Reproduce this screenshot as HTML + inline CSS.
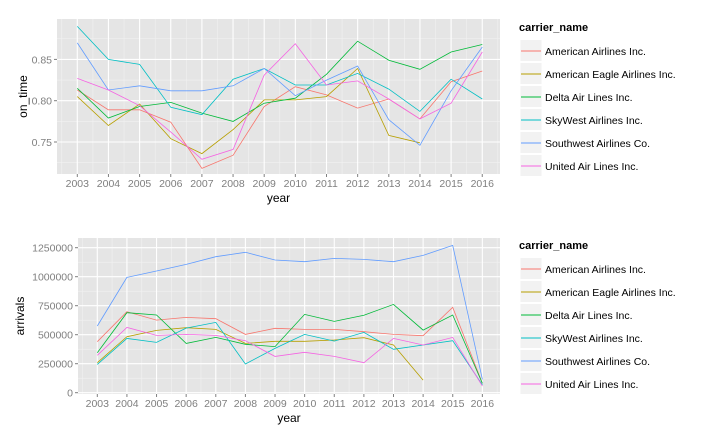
<!DOCTYPE html>
<html><head><meta charset="utf-8"><style>
body{margin:0;background:#fff;}
svg{display:block;font-family:"Liberation Sans",Arial,sans-serif;}
</style></head><body>
<svg id="chart" width="715" height="439" viewBox="0 0 715 439"></svg>
<script>
const years=[2003,2004,2005,2006,2007,2008,2009,2010,2011,2012,2013,2014,2015,2016];
const carriers=["American Airlines Inc.","American Eagle Airlines Inc.","Delta Air Lines Inc.","SkyWest Airlines Inc.","Southwest Airlines Co.","United Air Lines Inc."];
const colors=["#F8766D","#B79F00","#00BA38","#00BFC4","#619CFF","#F564E3"];
const onTimeAmerican=[0.813,0.789,0.789,0.774,0.718,0.734,0.793,0.817,0.807,0.791,0.802,0.778,0.823,0.836];
const onTimeEagle=[0.805,0.770,0.796,0.754,0.736,0.765,0.801,0.801,0.805,0.839,0.758,0.749];
const onTimeDelta=[0.815,0.779,0.793,0.798,0.785,0.775,0.797,0.803,0.832,0.872,0.849,0.838,0.859,0.868];
const onTimeSkyWest=[0.890,0.850,0.844,0.792,0.783,0.826,0.839,0.819,0.819,0.833,0.814,0.787,0.826,0.802];
const onTimeSouthwest=[0.870,0.813,0.818,0.812,0.812,0.818,0.839,0.806,0.825,0.842,0.777,0.746,0.812,0.865];
const onTimeUnited=[0.827,0.813,0.794,0.762,0.729,0.741,0.831,0.869,0.819,0.824,0.802,0.778,0.797,0.859];
const arrAmerican=[440000,698000,626000,649000,638000,503000,555000,546000,546000,526000,503000,491000,736000,80000];
const arrEagle=[259000,483000,537000,560000,546000,425000,443000,443000,454000,474000,411000,109000];
const arrDelta=[345000,690000,670000,425000,477000,417000,397000,675000,615000,667000,761000,540000,670000,80000];
const arrSkyWest=[244000,468000,434000,557000,606000,247000,382000,503000,445000,520000,374000,411000,448000,66000];
const arrSouthwest=[575000,994000,1049000,1106000,1172000,1210000,1144000,1129000,1158000,1149000,1129000,1184000,1270000,115000];
const arrUnited=[322000,563000,494000,503000,494000,448000,313000,348000,313000,259000,468000,411000,477000,57000];
const onTimeTicks=[0.75,0.80,0.85];
const arrTicks=[0,250000,500000,750000,1000000,1250000];

const NS="http://www.w3.org/2000/svg";
const svg=document.getElementById('chart');
function el(tag,attrs,parent,text){const e=document.createElementNS(NS,tag);for(const k in attrs)e.setAttribute(k,attrs[k]);if(text!==undefined)e.textContent=text;(parent||svg).appendChild(e);return e;}

function panel(cfg){
  const g=el('g',{});
  
  
  const {L,R,T,B}=cfg;
  const x=y=>cfg.x0+(y-years[0])*cfg.xs;
  const yv=v=>cfg.y0-(v-cfg.v0)*cfg.ys;
  const bg=el('rect',{x:L,y:T,width:R-L,height:B-T,fill:'#E5E5E5'},g);
  
  
  for(let i=-1;i<years.length;i++){const xx=x(years[0]+i+0.5);if(xx>L&&xx<R)el('line',{x1:xx,x2:xx,y1:T,y2:B,stroke:'#F2F2F2','stroke-width':0.6},g);}
  const step=cfg.ticks[1]-cfg.ticks[0];
  for(let v=cfg.ticks[0]-step*1.5;v<cfg.ticks[cfg.ticks.length-1]+step*2;v+=step){const yy=yv(v);if(yy>T&&yy<B)el('line',{x1:L,x2:R,y1:yy,y2:yy,stroke:'#F2F2F2','stroke-width':0.6},g);}
  years.forEach(yr=>{const xx=x(yr);el('line',{x1:xx,x2:xx,y1:T,y2:B,stroke:'#fff','stroke-width':1.1},g);
    el('line',{x1:xx,x2:xx,y1:B,y2:B+3,stroke:'#7F7F7F','stroke-width':1},g);
    const t=el('text',{x:xx,y:B+13,'text-anchor':'middle','font-size':'10.5',fill:'#7F7F7F'},g,yr);
    
    });
  cfg.ticks.forEach(v=>{const yy=yv(v);el('line',{x1:L,x2:R,y1:yy,y2:yy,stroke:'#fff','stroke-width':1.1},g);
    el('line',{x1:L-3,x2:L,y1:yy,y2:yy,stroke:'#7F7F7F','stroke-width':1},g);
    const t=el('text',{x:L-5,y:yy+4,'text-anchor':'end','font-size':'10.5',fill:'#7F7F7F'},g,cfg.fmt(v));
    
    });
  cfg.series.forEach((s,i)=>{const pts=s.map((v,j)=>x(years[j]).toFixed(1)+','+yv(v).toFixed(1)).join(' ');
    const p=el('polyline',{points:pts,fill:'none',stroke:colors[i],'stroke-width':0.8},g);
    
    });
  const xt=el('text',{x:(L+R)/2,y:B+28,'text-anchor':'middle','font-size':'12',fill:'#000'},g,'year');
  
  
  const ytx=cfg.ytX;const yc=(T+B)/2;
  const yt=el('text',{x:ytx,y:yc,'text-anchor':'middle','font-size':'12',fill:'#000',transform:`rotate(-90 ${ytx} ${yc})`},g,cfg.ytitle);
  
  
  const lg=el('g',{},g);
  
  
  const lt=el('text',{x:519,y:cfg.legY,'font-size':'11','font-weight':'bold',fill:'#000'},lg,'carrier_name');
  
  
  carriers.forEach((c,i)=>{const cy=cfg.legY+20+i*23;
    const e=el('g',{},lg);
    
    
    el('rect',{x:520,y:cy-11.5,width:22,height:22,fill:'#F2F2F2',stroke:'#fff','stroke-width':1},e);
    el('line',{x1:521,x2:541,y1:cy,y2:cy,stroke:colors[i],'stroke-width':1},e);
    el('text',{x:545,y:cy+4,'font-size':'10.5',fill:'#000'},e,c);});
}
panel({name:'on-time-panel',L:57,R:500,T:19,B:174,x0:77.3,xs:31.15,y0:100.7,v0:0.80,ys:41.3/0.05,ticks:onTimeTicks,fmt:v=>v.toFixed(2),
  series:[onTimeAmerican,onTimeEagle,onTimeDelta,onTimeSkyWest,onTimeSouthwest,onTimeUnited],ytitle:'on_time',ytX:27,legY:31});
panel({name:'arrivals-panel',L:78,R:500,T:238,B:394,x0:97.3,xs:29.62,y0:392.7,v0:0,ys:145/1250000,ticks:arrTicks,fmt:v=>String(v),
  series:[arrAmerican,arrEagle,arrDelta,arrSkyWest,arrSouthwest,arrUnited],ytitle:'arrivals',ytX:24,legY:249});
</script>
</body></html>
